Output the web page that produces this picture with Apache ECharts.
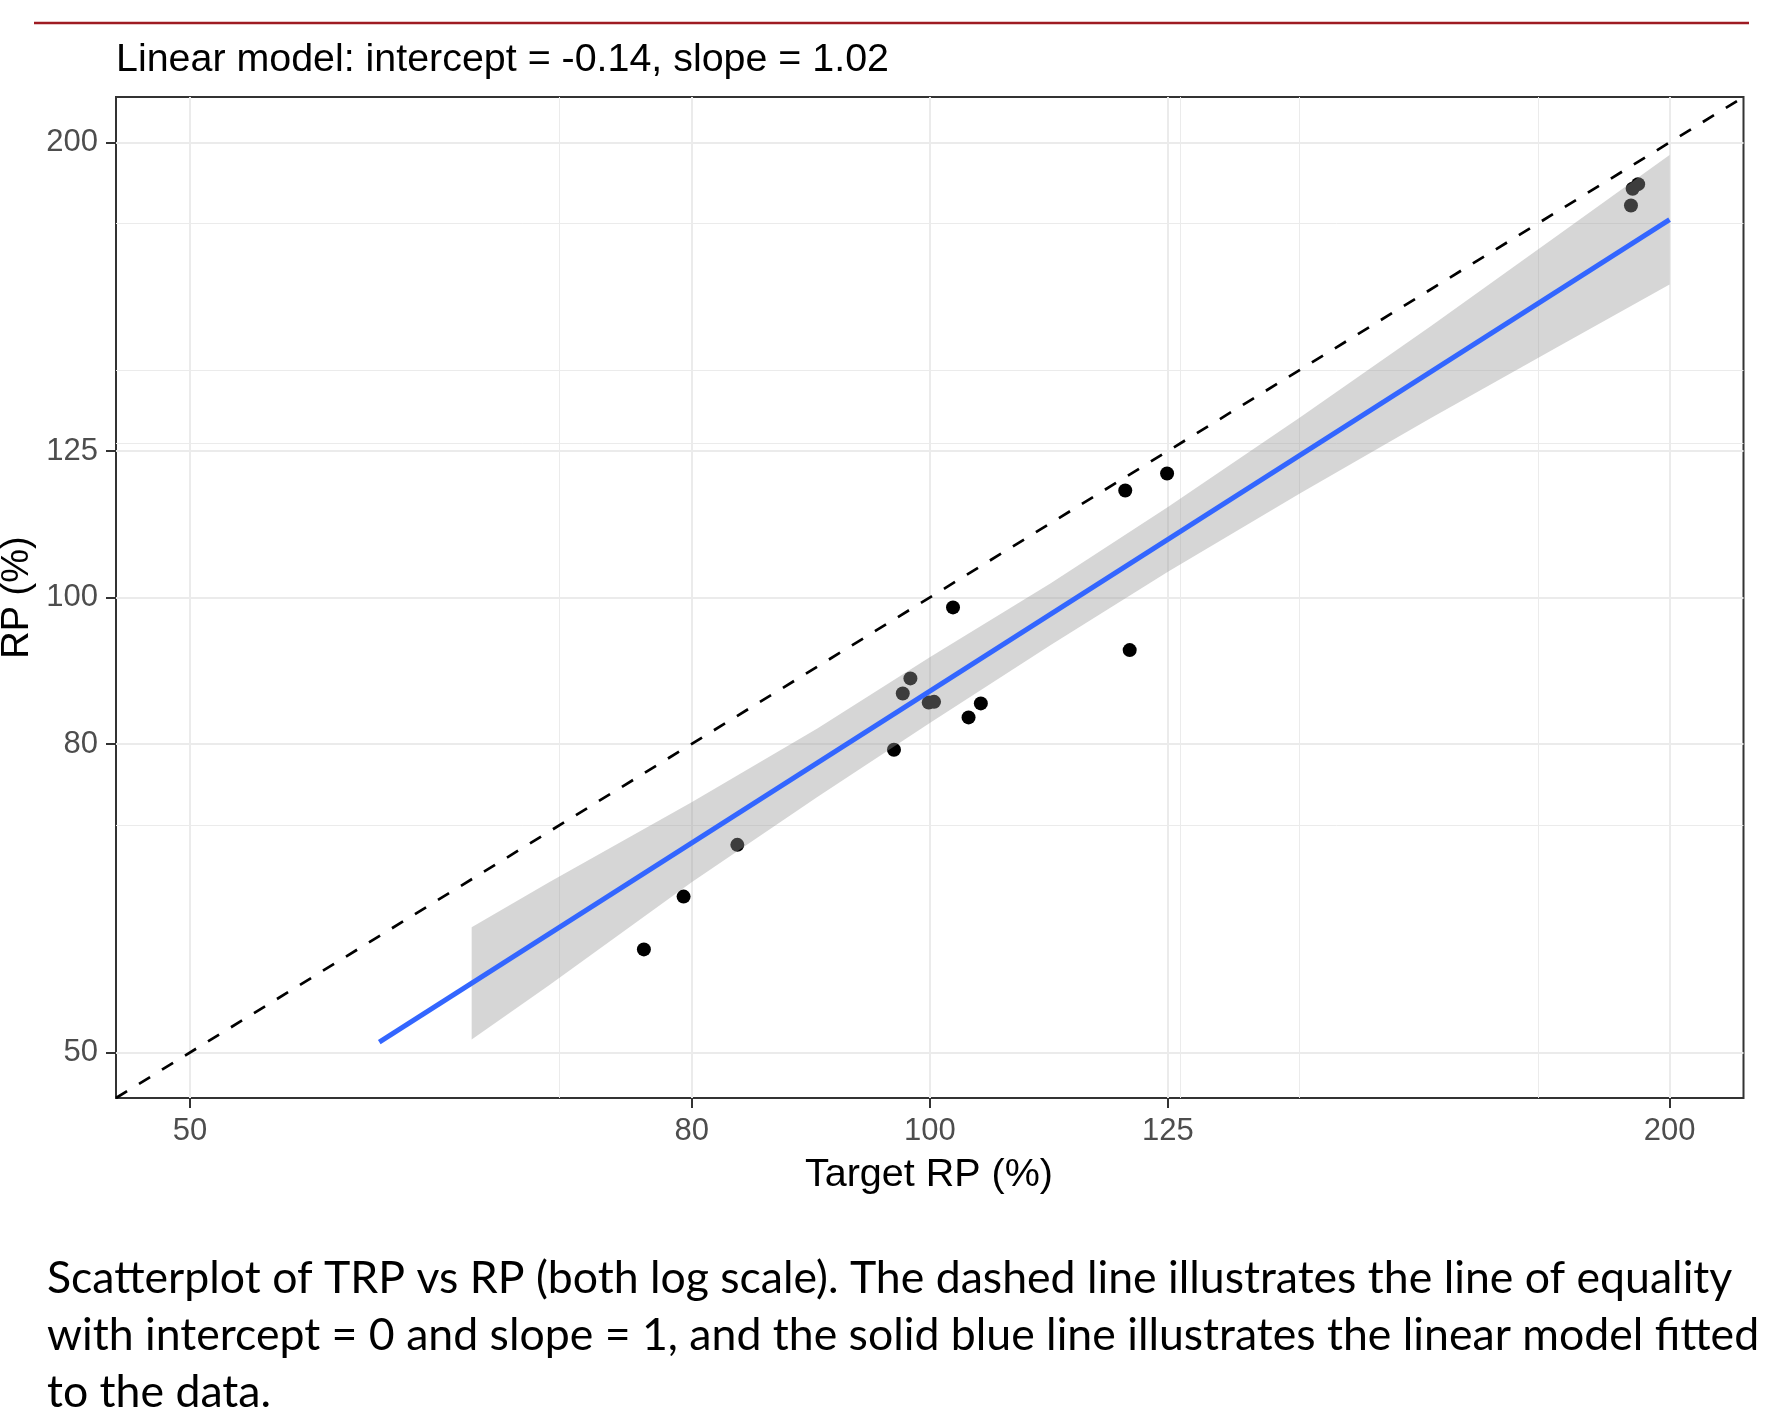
<!DOCTYPE html>
<html>
<head>
<meta charset="utf-8">
<title>TRP vs RP</title>
<script src="https://cdn.jsdelivr.net/npm/echarts@6/dist/echarts.min.js"></script>
<style>
  html, body { margin: 0; padding: 0; background: #fff; }
  #chart { width: 1769px; height: 1412px; }
</style>
</head>
<body>
<div id="chart"></div>
<script>
// values (percent)
var targetRP = [76.5, 79.4, 83.5, 96.7, 97.5, 98.2, 99.9, 100.4, 102.2, 103.7, 104.9, 120.1, 120.6, 124.9, 192.9, 193.2, 194.2];
var observedRP = [58.5, 63.4, 68.6, 79.3, 86.4, 88.4, 85.2, 85.3, 98.5, 83.3, 85.1, 117.7, 92.3, 120.8, 181.7, 186.4, 187.7];

var tickValues = [50, 80, 100, 125, 200];
var minorValues = [70.7, 126.5, 141.4, 176.8];
var axisRange = [46.65, 214.35];

// fitted model line and its confidence band
var fitX = [59.7, 200];
var fitY = [50.8, 177.8];
var ribbonX = [65.1, 70, 80, 90, 100, 112, 125, 141.5, 160, 180, 200];
var ribbonLower = [51.0, 55.4, 64.8, 73.8, 82.6, 93.0, 104.0, 117.2, 131.5, 146.4, 161.1];
var ribbonUpper = [60.5, 64.8, 73.2, 81.9, 91.3, 102.2, 114.8, 131.6, 151.3, 173.5, 196.2];

var captionLines = [
	'Scatterplot of TRP vs RP (both log scale). The dashed line illustrates the line of equality',
	'with intercept = 0 and slope = 1, and the solid blue line illustrates the linear model fitted',
	'to the data.'
];

var points = targetRP.map(function(x, i) {
	return [x, observedRP[i]];
});
var fitData = fitX.map(function(x, i) {
	return [x, fitY[i]];
});
var ribbonData = ribbonX.map(function(x, i) {
	return [x, ribbonLower[i], ribbonUpper[i]];
});

var gridLines = [];
tickValues.forEach(function(v) {
	gridLines.push({ xAxis: v, lineStyle: { width: 2 } });
	gridLines.push({ yAxis: v, lineStyle: { width: 2 } });
});
minorValues.forEach(function(v) {
	gridLines.push({ xAxis: v, lineStyle: { width: 1 } });
	gridLines.push({ yAxis: v, lineStyle: { width: 1 } });
});

function logAxis() {
	return {
		type: 'log',
		logBase: 10,
		min: axisRange[0],
		max: axisRange[1],
		axisLine: { show: false },
		axisTick: {
			show: true,
			customValues: tickValues,
			length: 10,
			lineStyle: { color: '#333', width: 2 }
		},
		axisLabel: {
			customValues: tickValues,
			fontSize: 31,
			fontFamily: 'Liberation Sans',
			color: '#4d4d4d',
			margin: 18
		},
		splitLine: { show: false },
		minorSplitLine: { show: false }
	};
}

var chart = echarts.init(document.getElementById('chart'));

var option = {
	animation: false,
	backgroundColor: '#fff',
	grid: {
		left: 116,
		right: 25.5,
		top: 97,
		bottom: 314,
		show: true,
		borderColor: '#333',
		borderWidth: 2,
		backgroundColor: 'rgba(0,0,0,0)'
	},
	xAxis: logAxis(),
	yAxis: logAxis(),
	graphic: [{
		type: 'line',
		shape: { x1: 34, y1: 23, x2: 1749, y2: 23 },
		style: { stroke: '#9e1b22', lineWidth: 2.5 }
	}, {
		type: 'text',
		style: {
			text: 'Linear model: intercept = -0.14, slope = 1.02',
			x: 116, y: 60,
			fontSize: 39.4, fontFamily: 'Liberation Sans', fill: '#000',
			align: 'left', verticalAlign: 'middle',
			textAlign: 'left', textVerticalAlign: 'middle'
		}
	}, {
		type: 'text',
		style: {
			text: 'Target RP (%)',
			x: 929, y: 1175,
			fontSize: 39.5, fontFamily: 'Liberation Sans', fill: '#000',
			align: 'center', verticalAlign: 'middle',
			textAlign: 'center', textVerticalAlign: 'middle'
		}
	}, {
		type: 'text',
		x: 18, y: 597.5,
		rotation: Math.PI / 2,
		style: {
			text: 'RP (%)',
			x: 0, y: 0,
			fontSize: 38, fontFamily: 'Liberation Sans', fill: '#000',
			align: 'center', verticalAlign: 'middle',
			textAlign: 'center', textVerticalAlign: 'middle'
		}
	}].concat(captionLines.map(function(t, i) {
		return {
			type: 'text',
			style: {
				text: t,
				x: 47, y: 1279 + i * 57,
				fontSize: 44.6, fontFamily: 'Lato', fill: '#000',
				align: 'left', verticalAlign: 'middle',
				textAlign: 'left', textVerticalAlign: 'middle'
			}
		};
	})),
	series: [{
		// panel grid lines
		type: 'line',
		data: [],
		z: 1,
		markLine: {
			silent: true,
			z: 1,
			symbol: ['none', 'none'],
			label: { show: false },
			lineStyle: { color: '#ebebeb', type: 'solid' },
			data: gridLines
		}
	}, {
		type: 'scatter',
		data: points,
		symbolSize: 14,
		itemStyle: { color: '#000', opacity: 1 },
		z: 2
	}, {
		type: 'custom',
		data: ribbonData,
		encode: { x: 0, y: [1, 2] },
		z: 3,
		renderItem: function(params, api) {
			if (params.dataIndex !== 0) return;
			var pts = [];
			for (var i = 0; i < ribbonX.length; i++) {
				pts.push(api.coord([ribbonX[i], ribbonUpper[i]]));
			}
			for (var j = ribbonX.length - 1; j >= 0; j--) {
				pts.push(api.coord([ribbonX[j], ribbonLower[j]]));
			}
			return {
				type: 'polygon',
				shape: { points: pts },
				style: { fill: 'rgba(153,153,153,0.4)' }
			};
		}
	}, {
		type: 'line',
		data: fitData,
		symbol: 'none',
		lineStyle: { color: '#3366FF', width: 5 },
		z: 4
	}, {
		type: 'line',
		data: [[axisRange[0], axisRange[0]], [axisRange[1], axisRange[1]]],
		symbol: 'none',
		lineStyle: { color: '#000', width: 2.7, type: [13, 14] },
		z: 5
	}]
};

chart.setOption(option);
</script>
</body>
</html>
